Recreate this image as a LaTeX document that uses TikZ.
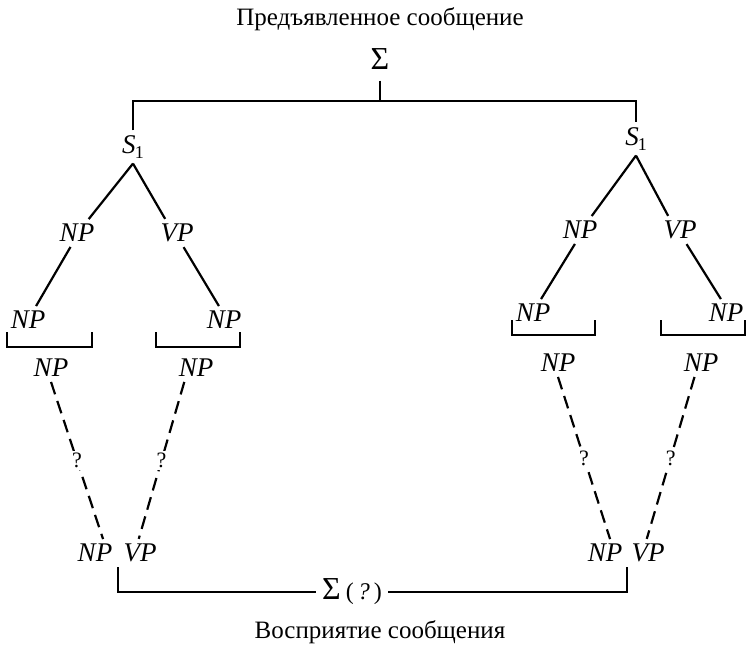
\documentclass[tikz,border=0pt]{standalone}
\usepackage{fontspec}
\setmainfont{Liberation Serif}
\usetikzlibrary{calc}

\begin{document}
\begin{tikzpicture}[x=0.5pt, y=-0.5pt,
    every node/.style={inner sep=2pt, font=\fontsize{13.5}{15}\selectfont\itshape},
    line width=1.1pt,
    guion/.style={dash pattern=on 6.5pt off 3.5pt},
    preg/.style={fill=white, inner sep=1pt, font=\fontsize{11}{12}\selectfont},
    titulo/.style={font=\fontsize{12.5}{15}\selectfont}
]
\useasboundingbox (0,0) rectangle (746,645);

% ---- Arriba ----
\node[titulo] (tit1) at (380,19) {Предъявленное сообщение};
\node[font=\fontsize{16}{18}\selectfont] (sig) at (380,59) {Σ};
\coordinate (barra) at (380,101);

\node (si) at (133,147) {S\kern-0.5pt\raisebox{-2.5pt}{\fontsize{9}{10}\selectfont\upshape 1}};
\node (sd) at (636,139) {S\kern-0.5pt\raisebox{-2.5pt}{\fontsize{9}{10}\selectfont\upshape 1}};

\draw[shorten <=3pt] (sig.south) -- (barra);
\draw (si.north) |- (barra) -| (sd.north);

% ---- Arbol izquierdo ----
\node (ai) at (77,233) {NP};
\node (bi) at (177,233) {VP};
\node (ci) at (28,320) {NP};
\node (di) at (224,320) {NP};
\node (ei) at (51,368) {NP};
\node (fi) at (196,368) {NP};
\node (gi) at (95,553) {NP};
\node (hi) at (140,553) {VP};

% Aristas
\draw (si.south) -- (ai.50);
\draw (si.south) -- (bi.130);
\draw (ai.-115) -- (ci.60);
\draw (bi.-65) -- (di.110);
\draw (7,332) |- (92,347) -- (92,332);
\draw (156,332) |- (240,347) -- (240,332);
\draw[guion] (ei.south) -- node[preg] {?} (gi.60);
\draw[guion] (fi.-130) -- node[preg] {?} (hi.95);

% ---- Arbol derecho ----
\node (ad) at (580,230) {NP};
\node (bd) at (680,230) {VP};
\node (cd) at (533,313) {NP};
\node (dd) at (726,313) {NP};
\node (ed) at (558,363) {NP};
\node (fd) at (701,363) {NP};
\node (gd) at (605,553) {NP};
\node (hd) at (648,553) {VP};

% Aristas
\draw (sd.south) -- (ad.50);
\draw (sd.south) -- (bd.130);
\draw (ad.-110) -- (cd.60);
\draw (bd.-65) -- (dd.110);
\draw (512,320) |- (595,335) -- (595,320);
\draw (661,320) |- (745,335) -- (745,320);
\draw[guion] (ed.south) -- node[preg] {?} (gd.70);
\draw[guion] (fd.-115) -- node[preg] {?} (hd.95);

% ---- Abajo ----
\node[font=\fontsize{16}{18}\selectfont, inner sep=2.5pt] (sigb) at (352,592)
  {Σ\,{\fontsize{12}{13}\selectfont(\,\textit{?}\,)}};
\node[titulo] (tit2) at (380,632) {Восприятие сообщения};

\draw ($(gi.south east)!0.5!(hi.south west)$) |- (sigb.west);
\draw ($(gd.south east)!0.5!(hd.south west)$) |- (sigb.east);

\end{tikzpicture}
\end{document}
